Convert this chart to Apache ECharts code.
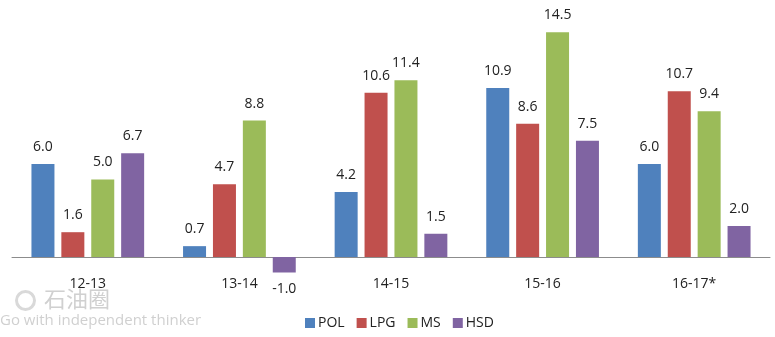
<!DOCTYPE html>
<html><head><meta charset="utf-8">
<script src="https://cdn.jsdelivr.net/npm/echarts@6/dist/echarts.min.js"></script>
<style>html,body{margin:0;padding:0;background:#fff}#c{width:775px;height:337px}</style>
</head><body><div id="c"></div>
<script>
const categories = ['12-13','13-14','14-15','15-16','16-17*'];
const seriesNames = ['POL','LPG','MS','HSD'];
const pol = [6.0, 0.7, 4.2, 10.9, 6.0];
const lpg = [1.6, 4.7, 10.6, 8.6, 10.7];
const ms  = [5.0, 8.8, 11.4, 14.5, 9.4];
const hsd = [6.7, -1.0, 1.5, 7.5, 2.0];
const colors = ['#4F81BD','#C0504D','#9BBB59','#8064A2'];
const values = [pol, lpg, ms, hsd];
const font = 'Open Sans';

const chart = echarts.init(document.getElementById('c'), null, {renderer:'canvas'});
chart.setOption({
  animation:false,
  grid:{left:12, right:5, top:24.5, bottom:64.5},
  xAxis:{type:'category', data:categories,
    axisLine:{lineStyle:{color:'#8c8c8c', width:1}},
    axisTick:{show:false},
    axisLabel:{color:'#222', fontSize:14, fontFamily:font, margin:5}},
  yAxis:{type:'value', min:-1, max:15, show:false, splitLine:{show:false}},
  legend:{data:seriesNames, bottom:2, left:300, itemWidth:10, itemHeight:10, itemGap:12,
    icon:'rect', textStyle:{color:'#222', fontSize:14, fontFamily:font, padding:[0,0,0,-2]}},
  graphic:[
    {type:'circle', left:14, top:289, shape:{r:9}, style:{fill:'none', stroke:'#d9d9d9', lineWidth:3}},
    {type:'text', left:44, top:288, style:{text:'石油圈', fill:'#d0d0d0', font:'22px "Noto Sans CJK SC"'}},
    {type:'text', left:0, top:313, style:{text:'Go with independent thinker', fill:'#d0d0d0', font:'15px "Open Sans"'}}
  ],
  series: seriesNames.map((n,i)=>({
    name:n, type:'bar', data:values[i], barWidth:23, barGap:'30%',
    itemStyle:{color:colors[i]},
    label:{show:true, position:'outside', distance:10, color:'#222', fontSize:14, fontFamily:font,
      formatter:p=>p.value.toFixed(1)}
  }))
});
</script></body></html>
